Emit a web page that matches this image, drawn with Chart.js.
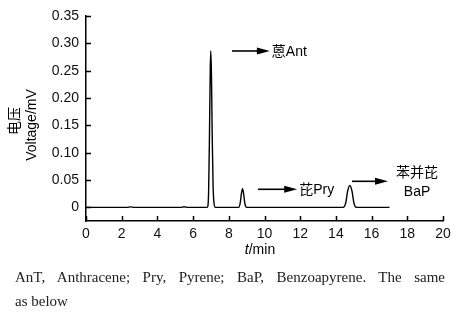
<!DOCTYPE html>
<html>
<head>
<meta charset="utf-8">
<script src="https://cdn.jsdelivr.net/npm/chart.js@4.4.1/dist/chart.umd.min.js"></script>
<style>
    html, body { margin: 0; padding: 0; background: #fff; }
    #wrap { position: relative; width: 459px; height: 327px; overflow: hidden; }
    #chart { position: absolute; left: 0; top: 0; }
    #caption {
        position: absolute; left: 15px; top: 265px; width: 430px;
        font-family: "Liberation Serif", serif;
        font-size: 15px; line-height: 24px; color: #222;
    }
    #caption .first { text-align: justify; text-align-last: justify; }
</style>
</head>
<body>
<div id="wrap">
    <canvas id="chart" width="459" height="327"></canvas>
    <div id="caption">
        <div class="first">AnT, Anthracene; Pry, Pyrene; BaP, Benzoapyrene. The same</div>
        <div>as below</div>
    </div>
</div>
<script>
// retention time (min) and detector signal (mV)
const times = [0, 2.3, 2.5, 2.7, 5.3, 5.5, 5.7, 6.8, 6.87, 6.92, 6.96, 6.99, 7.03, 7.07, 7.12, 7.17, 7.25,
    8.55, 8.64, 8.71, 8.77, 8.83, 8.9, 9.0, 14.4, 14.55, 14.66, 14.78, 14.9, 15.01, 15.15, 17.0];
const volts = [0, 0, 0.0008, 0, 0, 0.001, 0, 0, 0.03, 0.14, 0.25, 0.286, 0.24, 0.13, 0.04, 0.008, 0,
    0, 0.008, 0.026, 0.034, 0.025, 0.007, 0, 0, 0.008, 0.03, 0.040, 0.03, 0.008, 0, 0];

const xTicks = [0, 2, 4, 6, 8, 10, 12, 14, 16, 18, 20];
const yTicks = [0, 0.05, 0.10, 0.15, 0.20, 0.25, 0.30, 0.35];
const yTickLabels = ['0', '0.05', '0.10', '0.15', '0.20', '0.25', '0.30', '0.35'];

// peak labels: arrow start/end (min), arrow height (mV)
const peakNames = ['蒽Ant', '芘Pry', '苯并芘|BaP'];
const arrowFrom = [8.18, 9.64, 14.9];
const arrowTo = [10.3, 11.83, 16.92];
const arrowAt = [0.286, 0.033, 0.0476];

const sans = '"Liberation Sans", Arial, "Noto Sans CJK SC", sans-serif';
const cjk = '"Liberation Sans", "Noto Sans CJK SC", sans-serif';

const decorPlugin = {
    id: 'decor',
    afterDraw(chart) {
        const { ctx, scales } = chart;
        const xs = scales.x, ys = scales.y;
        const area = chart.chartArea;
        ctx.save();
        ctx.strokeStyle = '#000';
        ctx.fillStyle = '#000';
        ctx.lineWidth = 1.5;

        // inward ticks
        ctx.beginPath();
        xTicks.forEach(v => {
            const px = Math.round(xs.getPixelForValue(v)) + 0.5;
            ctx.moveTo(px, area.bottom);
            ctx.lineTo(px, area.bottom - 5);
        });
        yTicks.forEach(v => {
            const py = Math.round(ys.getPixelForValue(v)) + 0.5;
            ctx.moveTo(area.left, py);
            ctx.lineTo(area.left + 5, py);
        });
        ctx.stroke();

        // arrows and peak names
        peakNames.forEach((name, i) => {
            const x1 = xs.getPixelForValue(arrowFrom[i]);
            const x2 = xs.getPixelForValue(arrowTo[i]);
            const y = ys.getPixelForValue(arrowAt[i]);
            ctx.lineWidth = 1.6;
            ctx.beginPath();
            ctx.moveTo(x1, y);
            ctx.lineTo(x2 - 8, y);
            ctx.stroke();
            ctx.beginPath();
            ctx.moveTo(x2, y);
            ctx.lineTo(x2 - 13, y - 3.5);
            ctx.lineTo(x2 - 13, y + 3.5);
            ctx.closePath();
            ctx.fill();

            ctx.font = '14px ' + cjk;
            ctx.textBaseline = 'middle';
            const parts = name.split('|');
            if (parts.length === 1) {
                ctx.textAlign = 'left';
                ctx.fillText(name, x2 + 2, y + 1);
            } else {
                ctx.textAlign = 'center';
                const cx = x2 + 29;
                ctx.fillText(parts[0], cx, y - 8);
                ctx.fillText(parts[1], cx, y + 11);
            }
        });

        // axis titles
        ctx.textBaseline = 'middle';
        ctx.font = 'italic 14px ' + sans;
        const tW = ctx.measureText('t').width;
        ctx.font = '14px ' + sans;
        const mW = ctx.measureText('/min').width;
        const tx = 260 - (tW + mW) / 2;
        ctx.textAlign = 'left';
        ctx.font = 'italic 14px ' + sans;
        ctx.fillText('t', tx, 250);
        ctx.font = '14px ' + sans;
        ctx.fillText('/min', tx + tW, 250);

        ctx.save();
        ctx.translate(15, 121);
        ctx.rotate(-Math.PI / 2);
        ctx.textAlign = 'center';
        ctx.font = '14px ' + cjk;
        ctx.fillText('电压', 0, 0);
        ctx.restore();
        ctx.save();
        ctx.translate(32, 125);
        ctx.rotate(-Math.PI / 2);
        ctx.textAlign = 'center';
        ctx.font = '14px ' + sans;
        ctx.fillText('Voltage/mV', 0, 0);
        ctx.restore();

        ctx.restore();
    }
};

new Chart(document.getElementById('chart'), {
    type: 'line',
    data: {
        datasets: [{
            data: times.map((t, i) => ({ x: t, y: volts[i] })),
            borderColor: '#000',
            borderWidth: 1.4,
            pointRadius: 0,
            cubicInterpolationMode: 'monotone',
            fill: false
        }]
    },
    options: {
        responsive: false,
        animation: false,
        layout: { padding: { left: 0, right: 16, top: 16, bottom: 0 } },
        plugins: { legend: { display: false }, tooltip: { enabled: false } },
        scales: {
            x: {
                type: 'linear',
                min: 0,
                max: 20,
                afterFit: s => { s.height = 106; },
                afterBuildTicks: s => { s.ticks = xTicks.map(v => ({ value: v })); },
                grid: { display: true, drawOnChartArea: false, drawTicks: false },
                border: { color: '#000', width: 1.5 },
                ticks: {
                    padding: 5,
                    color: '#111',
                    font: { family: sans, size: 14 },
                    maxRotation: 0,
                    callback: v => String(v)
                }
            },
            y: {
                type: 'linear',
                min: -0.025,
                max: 0.35,
                afterFit: s => { s.width = 86; },
                afterBuildTicks: s => { s.ticks = yTicks.map(v => ({ value: v })); },
                grid: { display: true, drawOnChartArea: false, drawTicks: false },
                border: { color: '#000', width: 1.5 },
                ticks: {
                    padding: 7,
                    color: '#111',
                    font: { family: sans, size: 14 },
                    callback: (v, i) => yTickLabels[i]
                }
            }
        }
    },
    plugins: [decorPlugin]
});
</script>
</body>
</html>
